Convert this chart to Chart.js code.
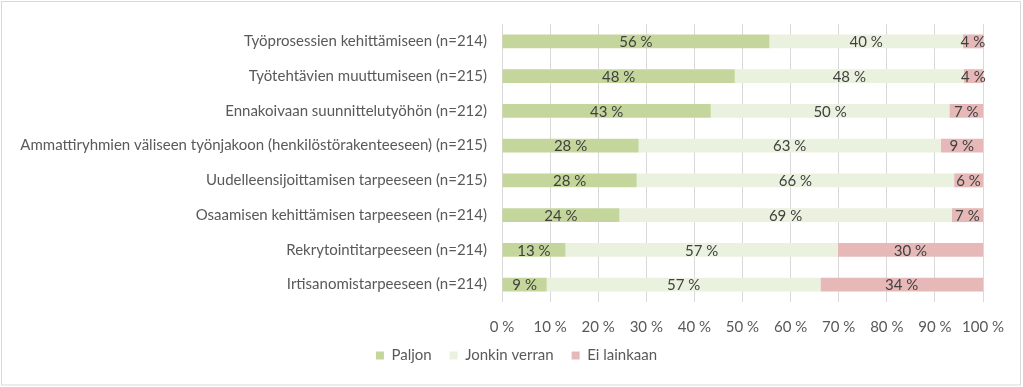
<!DOCTYPE html>
<html>
<head>
<meta charset="utf-8">
<script src="https://cdn.jsdelivr.net/npm/chart.js@4/dist/chart.umd.min.js"></script>
<style>
  html, body { margin: 0; padding: 0; background: #fff; }
  #wrap { width: 1023px; height: 387px; position: relative; }
</style>
</head>
<body>
<div id="wrap"><canvas id="chart" width="1023" height="387"></canvas></div>
<script>
// Categories (top to bottom)
const categories = [
    'Työprosessien kehittämiseen (n=214)',
    'Työtehtävien muuttumiseen (n=215)',
    'Ennakoivaan suunnittelutyöhön (n=212)',
    'Ammattiryhmien väliseen työnjakoon (henkilöstörakenteeseen) (n=215)',
    'Uudelleensijoittamisen tarpeeseen (n=215)',
    'Osaamisen kehittämisen tarpeeseen (n=214)',
    'Rekrytointitarpeeseen (n=214)',
    'Irtisanomistarpeeseen (n=214)'
];

// Series values, percent
const paljon = [55.6, 48.4, 43.4, 28.4, 28.0, 24.4, 13.2, 9.3];
const jonkinVerran = [40.2, 47.6, 49.6, 62.8, 66.0, 69.1, 56.6, 56.9];
const eiLainkaan = [4.2, 4.0, 7.0, 8.8, 6.0, 6.5, 30.2, 33.8];

const seriesNames = ['Paljon', 'Jonkin verran', 'Ei lainkaan'];
const seriesColors = ['#c4d69b', '#ebf1df', '#e6b9b8'];

const FONT = 'Lato, "Open Sans", sans-serif';
const TEXT = '#595959';

// Draw "56 %" style labels in the middle of every segment
const segmentLabels = {
    id: 'segmentLabels',
    afterDatasetsDraw(chart) {
        const ctx = chart.ctx;
        ctx.save();
        ctx.font = '15px ' + FONT;
        ctx.fillStyle = '#404040';
        ctx.textAlign = 'center';
        ctx.textBaseline = 'middle';
        chart.data.datasets.forEach((ds, i) => {
            const meta = chart.getDatasetMeta(i);
            meta.data.forEach((bar, j) => {
                const mid = (bar.x + bar.base) / 2;
                ctx.fillText(Math.round(ds.data[j]) + ' %', mid, bar.y + 1);
            });
        });
        ctx.restore();
    }
};

// Centre the legend under the whole picture and pull it up a bit
const legendShift = {
    id: 'legendShift',
    afterLayout(chart) {
        const lg = chart.legend;
        if (!lg) return;
        lg.left = 50;
        const h = lg.height;
        lg.top = 330;
        lg.bottom = 330 + h;
    }
};

// Thin frame round the picture
const frame = {
    id: 'frame',
    afterDraw(chart) {
        const ctx = chart.ctx;
        ctx.save();
        ctx.strokeStyle = '#d9d9d9';
        ctx.lineWidth = 1;
        ctx.strokeRect(1.5, 1.5, chart.width - 4, chart.height - 3.5);
        ctx.restore();
    }
};

const ctx = document.getElementById('chart').getContext('2d');
new Chart(ctx, {
    type: 'bar',
    data: {
        labels: categories,
        datasets: [
            { label: seriesNames[0], data: paljon, backgroundColor: seriesColors[0] },
            { label: seriesNames[1], data: jonkinVerran, backgroundColor: seriesColors[1] },
            { label: seriesNames[2], data: eiLainkaan, backgroundColor: seriesColors[2] }
        ]
    },
    options: {
        indexAxis: 'y',
        responsive: false,
        animation: false,
        datasets: {
            bar: { categoryPercentage: 1.0, barPercentage: 0.4 }
        },
        layout: {
            padding: { left: 0, right: 40, top: 15, bottom: 6 }
        },
        scales: {
            x: {
                stacked: true,
                min: 0,
                max: 100,
                ticks: {
                    stepSize: 10,
                    color: TEXT,
                    font: { family: FONT, size: 15 },
                    padding: 16,
                    callback: v => v + ' %'
                },
                grid: { color: '#d9d9d9', drawTicks: false },
                border: { display: false },
                // labels are clipped to the axis box, so keep it tall enough
                afterFit(scale) { scale.height = 36; }
            },
            y: {
                stacked: true,
                ticks: {
                    color: TEXT,
                    font: { family: FONT, size: 15 },
                    padding: 15
                },
                grid: { display: false, drawTicks: false },
                border: { display: false },
                afterFit(scale) { scale.width = 502; }
            }
        },
        plugins: {
            legend: {
                position: 'bottom',
                labels: {
                    color: TEXT,
                    font: { family: FONT, size: 15 },
                    boxWidth: 8,
                    boxHeight: 8,
                    padding: 18
                }
            },
            tooltip: { enabled: false }
        }
    },
    plugins: [segmentLabels, legendShift, frame]
});
</script>
</body>
</html>
